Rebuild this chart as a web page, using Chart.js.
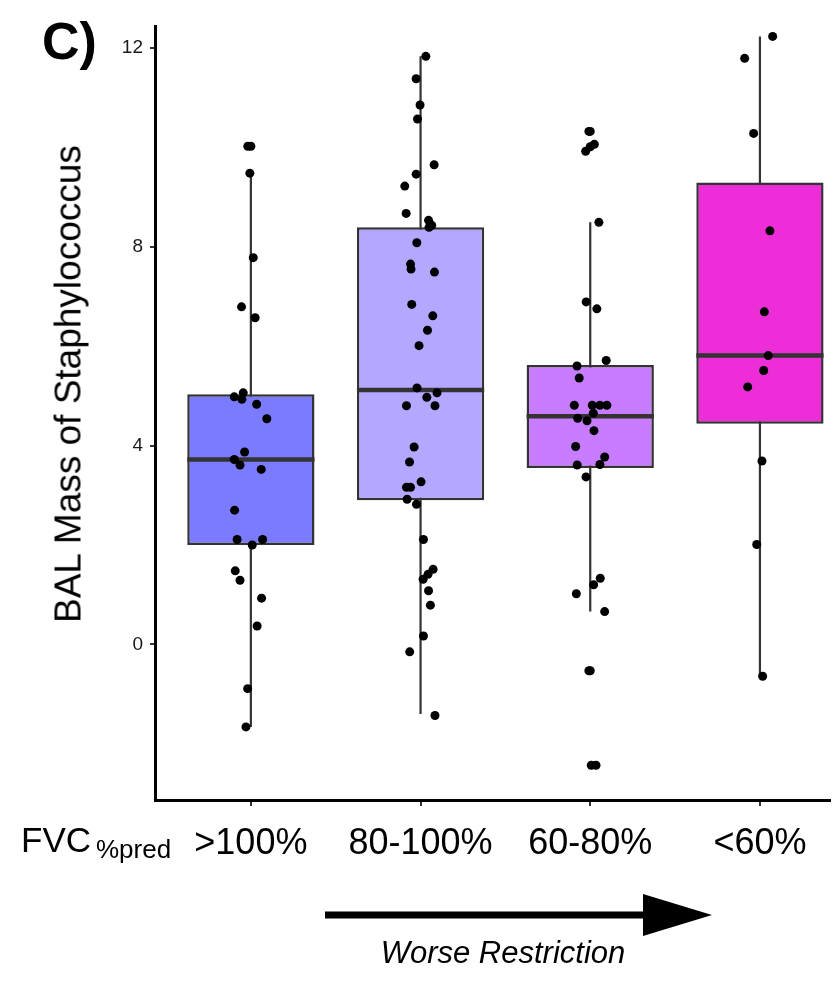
<!DOCTYPE html>
<html>
<head>
<meta charset="utf-8">
<script src="https://cdn.jsdelivr.net/npm/chart.js@4/dist/chart.umd.min.js"></script>
<style>
    html, body { margin: 0; padding: 0; background: #fff; }
    #wrap { position: relative; width: 834px; height: 1003px; font-family: "Liberation Sans", Arial, sans-serif; }
    #wrap canvas { position: absolute; left: 0; top: 0; }
    .txt { position: absolute; line-height: 1; white-space: nowrap; color: #000; }
    #panel { left: 42px; top: 15px; font-size: 52px; font-weight: bold; }
    #ytitle { left: 68px; top: 384px; font-size: 37px; transform: translate(-50%, -50%) rotate(-90deg); }
    #fvc { left: 21px; top: 822px; font-size: 35px; }
    #fvc span { font-size: 26px; vertical-align: -6px; margin-left: 5px; }
    #worse { left: 503px; top: 937px; font-size: 31px; font-style: italic; transform: translateX(-50%); }
    #arrow { position: absolute; left: 0; top: 0; }
</style>
</head>
<body>
<div id="wrap">
    <canvas id="chart" width="834" height="1003"></canvas>
    <div class="txt" id="panel">C)</div>
    <div class="txt" id="ytitle">BAL Mass of Staphylococcus</div>
    <div class="txt" id="fvc">FVC<span>%pred</span></div>
    <svg id="arrow" width="834" height="1003">
        <line x1="325" y1="915" x2="650" y2="915" stroke="#000" stroke-width="7"/>
        <polygon points="643,894 712,915 643,936" fill="#000"/>
    </svg>
    <div class="txt" id="worse">Worse Restriction</div>
</div>

<script>
// Groups on the x axis
const CATEGORIES = ['>100%', '80-100%', '60-80%', '<60%'];
const BOX_COLORS = ['#7b7bff', '#b4a7ff', '#c87cff', '#ec2dd8'];
const Y_TICKS = [0, 4, 8, 12];

// Box statistics per group
const Q1 = [2.00, 2.90, 3.55, 4.44];
const MEDIAN = [3.72, 5.12, 4.59, 5.81];
const Q3 = [5.03, 8.39, 5.62, 9.29];
const WHISKER_LOW = [-1.66, -1.40, 0.66, -0.64];
const WHISKER_HIGH = [9.48, 11.83, 8.49, 12.23];

// Individual samples (value + horizontal jitter offset)
const PTS_GT100 = [10.02, 10.02, 9.48, 7.78, 6.79, 6.57, 5.06, 4.98, 4.93, 4.83, 4.54, 3.87, 3.72, 3.61, 3.52, 2.70, 2.11, 2.11, 2.00, 1.48, 1.29, 0.93, 0.37, -0.89, -1.66];
const JIT_GT100 = [-0.018, 0.000, -0.006, 0.014, -0.055, 0.025, -0.045, -0.098, -0.053, 0.034, 0.094, -0.037, -0.098, -0.064, 0.061, -0.096, -0.081, 0.069, 0.008, -0.092, -0.064, 0.063, 0.037, -0.019, -0.029];

const PTS_80_100 = [11.83, 11.38, 10.85, 10.57, 9.65, 9.46, 9.22, 8.67, 8.53, 8.43, 8.39, 8.08, 7.65, 7.55, 7.49, 6.84, 6.61, 6.32, 6.01, 5.16, 5.06, 4.97, 4.80, 4.80, 3.97, 3.67, 3.27, 3.16, 3.16, 2.92, 2.82, 2.11, 1.51, 1.41, 1.31, 1.08, 0.79, 0.17, -0.15, -1.43];
const JIT_80_100 = [0.031, -0.026, -0.003, -0.018, 0.080, -0.026, -0.093, -0.085, 0.047, 0.066, 0.050, -0.022, -0.059, -0.056, 0.082, -0.052, 0.072, 0.041, -0.009, -0.021, 0.097, 0.037, -0.083, 0.085, -0.038, -0.065, 0.003, -0.083, -0.059, -0.079, -0.024, 0.017, 0.074, 0.044, 0.015, 0.047, 0.058, 0.017, -0.064, 0.085];

const PTS_60_80 = [10.32, 10.32, 10.06, 10.01, 9.92, 8.49, 6.89, 6.75, 5.71, 5.60, 5.36, 4.81, 4.81, 4.81, 4.81, 4.65, 4.55, 4.50, 4.30, 3.98, 3.77, 3.62, 3.61, 3.37, 1.33, 1.20, 1.02, 0.66, -0.53, -0.53, -2.43, -2.43];
const JIT_60_80 = [0.000, -0.008, 0.024, 0.000, -0.027, 0.051, -0.024, 0.039, 0.094, -0.078, -0.065, -0.094, 0.012, 0.057, 0.098, 0.018, -0.074, -0.019, 0.022, -0.086, 0.085, 0.057, -0.077, -0.025, 0.059, 0.020, -0.082, 0.085, -0.008, 0.000, 0.006, 0.034];

const PTS_LT60 = [12.23, 11.79, 10.28, 8.32, 6.69, 5.81, 5.51, 5.18, 3.69, 2.01, -0.64];
const JIT_LT60 = [0.075, -0.090, -0.037, 0.059, 0.026, 0.049, 0.022, -0.072, 0.012, -0.019, 0.016];

const BOX_WIDTH = 0.75; // in category units
const X_MIN = 0.435, X_MAX = 4.41;
const Y_MIN = -3.13, Y_MAX = 12.44;

const groupPoints = [
    [PTS_GT100, JIT_GT100],
    [PTS_80_100, JIT_80_100],
    [PTS_60_80, JIT_60_80],
    [PTS_LT60, JIT_LT60]
];

function buildDatasets() {
    const sets = [];

    // whiskers (drawn underneath the boxes)
    CATEGORIES.forEach((c, i) => {
        sets.push({
            type: 'line',
            data: [{ x: i + 1, y: WHISKER_LOW[i] }, { x: i + 1, y: WHISKER_HIGH[i] }],
            borderColor: '#333333',
            borderWidth: 2.2,
            pointRadius: 0,
            order: 4
        });
    });

    // boxes as floating bars
    sets.push({
        type: 'bar',
        data: CATEGORIES.map((c, i) => ({ x: i + 1, y: [Q1[i], Q3[i]] })),
        backgroundColor: BOX_COLORS,
        borderColor: '#333333',
        borderWidth: 2.5,
        borderSkipped: false,
        categoryPercentage: 1,
        barPercentage: BOX_WIDTH,
        order: 3
    });

    // medians
    CATEGORIES.forEach((c, i) => {
        sets.push({
            type: 'line',
            data: [{ x: i + 1 - BOX_WIDTH / 2, y: MEDIAN[i] }, { x: i + 1 + BOX_WIDTH / 2, y: MEDIAN[i] }],
            borderColor: '#333333',
            borderWidth: 4.5,
            pointRadius: 0,
            order: 2
        });
    });

    // jittered samples
    const pts = [];
    groupPoints.forEach(([vals, jit], i) => {
        vals.forEach((v, k) => pts.push({ x: i + 1 + jit[k], y: v }));
    });
    sets.push({
        type: 'scatter',
        data: pts,
        pointRadius: 4.5,
        pointBackgroundColor: '#000',
        pointBorderWidth: 0,
        order: 1
    });

    return sets;
}

new Chart(document.getElementById('chart'), {
    type: 'bar',
    data: { datasets: buildDatasets() },
    options: {
        responsive: false,
        animation: false,
        devicePixelRatio: 1,
        layout: { padding: { top: 26, right: 4, left: 0, bottom: 0 } },
        plugins: {
            legend: { display: false },
            tooltip: { enabled: false }
        },
        scales: {
            x: {
                type: 'linear',
                min: X_MIN,
                max: X_MAX,
                offset: false,
                afterBuildTicks: (scale) => {
                    scale.ticks = CATEGORIES.map((c, i) => ({ value: i + 1 }));
                },
                afterFit: (scale) => { scale.height = 203; },
                grid: { drawOnChartArea: false, drawTicks: true, tickLength: 6, color: '#333333', lineWidth: 2, offset: false },
                border: { display: true, color: '#000', width: 3 },
                ticks: {
                    callback: (v) => CATEGORIES[Math.round(v) - 1],
                    color: '#000',
                    padding: 16,
                    maxRotation: 0,
                    autoSkip: false,
                    font: { family: '"Liberation Sans", Arial, sans-serif', size: 36 }
                }
            },
            y: {
                type: 'linear',
                min: Y_MIN,
                max: Y_MAX,
                afterBuildTicks: (scale) => {
                    scale.ticks = Y_TICKS.map(v => ({ value: v }));
                },
                afterFit: (scale) => { scale.width = 155; },
                grid: { drawOnChartArea: false, drawTicks: true, tickLength: 5, color: '#333333', lineWidth: 2 },
                border: { display: true, color: '#000', width: 3 },
                ticks: {
                    color: '#1a1a1a',
                    padding: 7,
                    font: { family: '"Liberation Sans", Arial, sans-serif', size: 19 }
                }
            }
        }
    }
});
</script>
</body>
</html>
